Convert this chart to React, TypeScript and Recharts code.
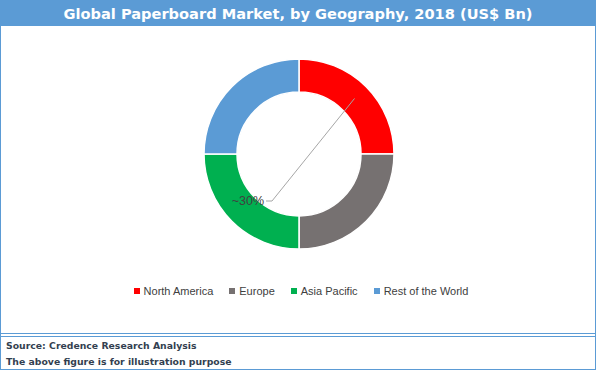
import React from "react";
import { PieChart, Pie, Cell } from "recharts";

const regions = ["North America", "Europe", "Asia Pacific", "Rest of the World"];
const shares = [25, 25, 25, 25];
const colors = ["#ff0000", "#767171", "#00b050", "#5b9bd5"];
const calloutText = "~30%";

const data = regions.map((name, i) => ({ name, value: shares[i] }));

const RADIAN = Math.PI / 180;

const renderLabel = (props: any) => {
  const { cx, cy, midAngle, innerRadius, outerRadius, index } = props;
  if (index !== 0) return null;
  const r = (innerRadius + outerRadius) / 2;
  const sx = cx + r * Math.cos(-midAngle * RADIAN);
  const sy = cy + r * Math.sin(-midAngle * RADIAN);
  const ex = cx - 27;
  const ey = cy + 47;
  return (
    <g>
      <polyline
        points={`${sx},${sy} ${ex},${ey} ${ex - 6},${ey}`}
        fill="none"
        stroke="#a6a6a6"
        strokeWidth={1}
      />
      <text
        x={ex - 8}
        y={ey}
        textAnchor="end"
        dominantBaseline="central"
        fill="#404040"
        fontSize={12.5}
        fontFamily="Liberation Sans, Arial, sans-serif"
      >
        {calloutText}
      </text>
    </g>
  );
};

export default function App() {
  const border = "#5b9bd5";
  return (
    <div style={{ position: "absolute", left: 0, top: 0, width: 596, height: 370, background: "#fff", boxSizing: "border-box", border: `1px solid ${border}`, overflow: "hidden" }}>
      <div style={{ position: "absolute", left: 0, top: 0, width: 594, height: 25, background: border, color: "#fff", fontFamily: "DejaVu Sans, Verdana, sans-serif", fontWeight: "bold", fontSize: 14.6, lineHeight: "25px", textAlign: "center" }}>
        Global Paperboard Market, by Geography, 2018 (US$ Bn)
      </div>
      <div style={{ position: "absolute", left: -1, top: -1 }}>
        <PieChart width={596} height={370} margin={{ top: 0, right: 0, bottom: 0, left: 0 }}>
          <Pie
            data={data}
            dataKey="value"
            nameKey="name"
            cx={299}
            cy={154}
            innerRadius={62}
            outerRadius={95}
            startAngle={90}
            endAngle={-270}
            stroke="#ffffff"
            strokeWidth={1.5}
            label={renderLabel}
            labelLine={false}
            isAnimationActive={false}
          >
            {data.map((d, i) => (
              <Cell key={d.name} fill={colors[i]} />
            ))}
          </Pie>
        </PieChart>
      </div>
      <div style={{ position: "absolute", left: 2, top: 282, width: 596, display: "flex", justifyContent: "center", gap: 16, fontFamily: "Liberation Sans, Arial, sans-serif", fontSize: 11, color: "#404040", lineHeight: "16px" }}>
        {regions.map((name, i) => (
          <div key={name} style={{ display: "flex", alignItems: "center" }}>
            <span style={{ display: "inline-block", width: 6, height: 6, background: colors[i], marginRight: 4 }} />
            <span>{name}</span>
          </div>
        ))}
      </div>
      <div style={{ position: "absolute", left: 0, top: 332, width: 594, height: 1, background: border }} />
      <div style={{ position: "absolute", left: 0, top: 335, width: 594, height: 1, background: border }} />
      <div style={{ position: "absolute", left: 5, top: 337, fontFamily: "DejaVu Sans, Verdana, sans-serif", fontWeight: "bold", fontSize: 9.3, color: "#333f50", lineHeight: "16px" }}>
        <div>Source: Credence Research Analysis</div>
        <div>The above figure is for illustration purpose</div>
      </div>
    </div>
  );
}
